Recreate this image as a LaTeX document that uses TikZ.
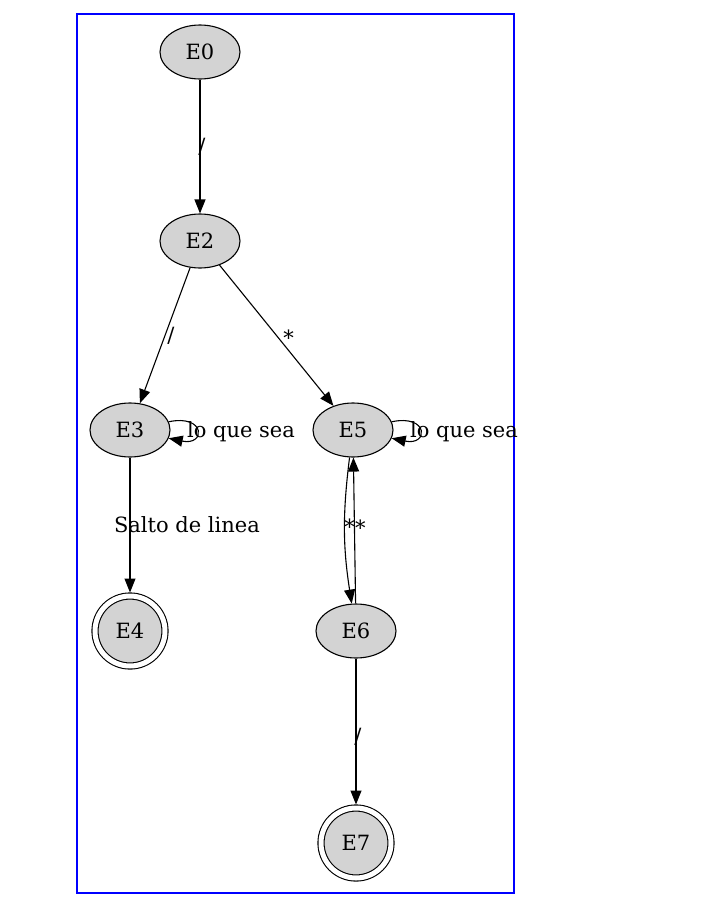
\documentclass[tikz,border=0pt]{standalone}
\usepackage{fontspec}
\setmainfont{DejaVu Serif}
\usetikzlibrary{shapes.geometric,arrows.meta,positioning}
\definecolor{grisnodo}{HTML}{D3D3D3}
\begin{document}
\begin{tikzpicture}[x=1pt,y=1pt,node distance=189pt,
  font=\fontsize{21}{25}\selectfont,line width=1.1pt,
  >={Triangle[length=14pt,width=11pt]},
  estado/.style={ellipse,draw,fill=grisnodo,minimum width=80pt,minimum height=54pt,inner sep=0pt},
  final/.style={circle,draw,fill=grisnodo,double,double distance=5pt,minimum size=70pt,inner sep=0pt,outer sep=3.5pt},
  etq/.style={inner sep=1pt}]
\useasboundingbox (0,0) rectangle (706,-916);
\draw[blue] (77,-14) rectangle (514,-893);
\node[estado] (E0) at (200,-52) {E0};
\node[estado] (E2) [below of=E0] {E2};
\node[estado] (E3) [below of=E2,xshift=-70pt] {E3};
\node[estado] (E5) [below of=E2,xshift=153pt] {E5};
\node[final] (E4) [below of=E3,yshift=-12pt] {E4};
\node[estado] (E6) [below of=E5,xshift=3pt,yshift=-12pt] {E6};
\node[final] (E7) [below of=E6,yshift=-23pt] {E7};
\path[->] (E0) edge node[etq,xshift=2pt] {/} (E2);
\path[->] (E2) edge node[etq,xshift=6pt] {/} (E3);
\path[->] (E2) edge node[etq,xshift=12pt,yshift=-2pt] {*} (E5);
\path[->] (E3) edge[out=12,in=-12,distance=38pt] node[etq,anchor=west,xshift=-11pt,yshift=-2pt] {lo que sea} (E3);
\path[->] (E5) edge[out=12,in=-12,distance=38pt] node[etq,anchor=west,xshift=-11pt,yshift=-2pt] {lo que sea} (E5);
\path[->] (E3) edge node[etq,xshift=57pt] {Salto de linea} (E4);
\path[->] (E5) edge[bend right=8] node[etq,pos=0.47,xshift=5pt] {*} (E6);
\path[->] (E6) edge node[etq,pos=0.52,xshift=6pt] {*} (E5);
\path[->] (E6) edge node[etq,yshift=-5pt,xshift=2pt] {/} (E7);
\end{tikzpicture}
\end{document}
